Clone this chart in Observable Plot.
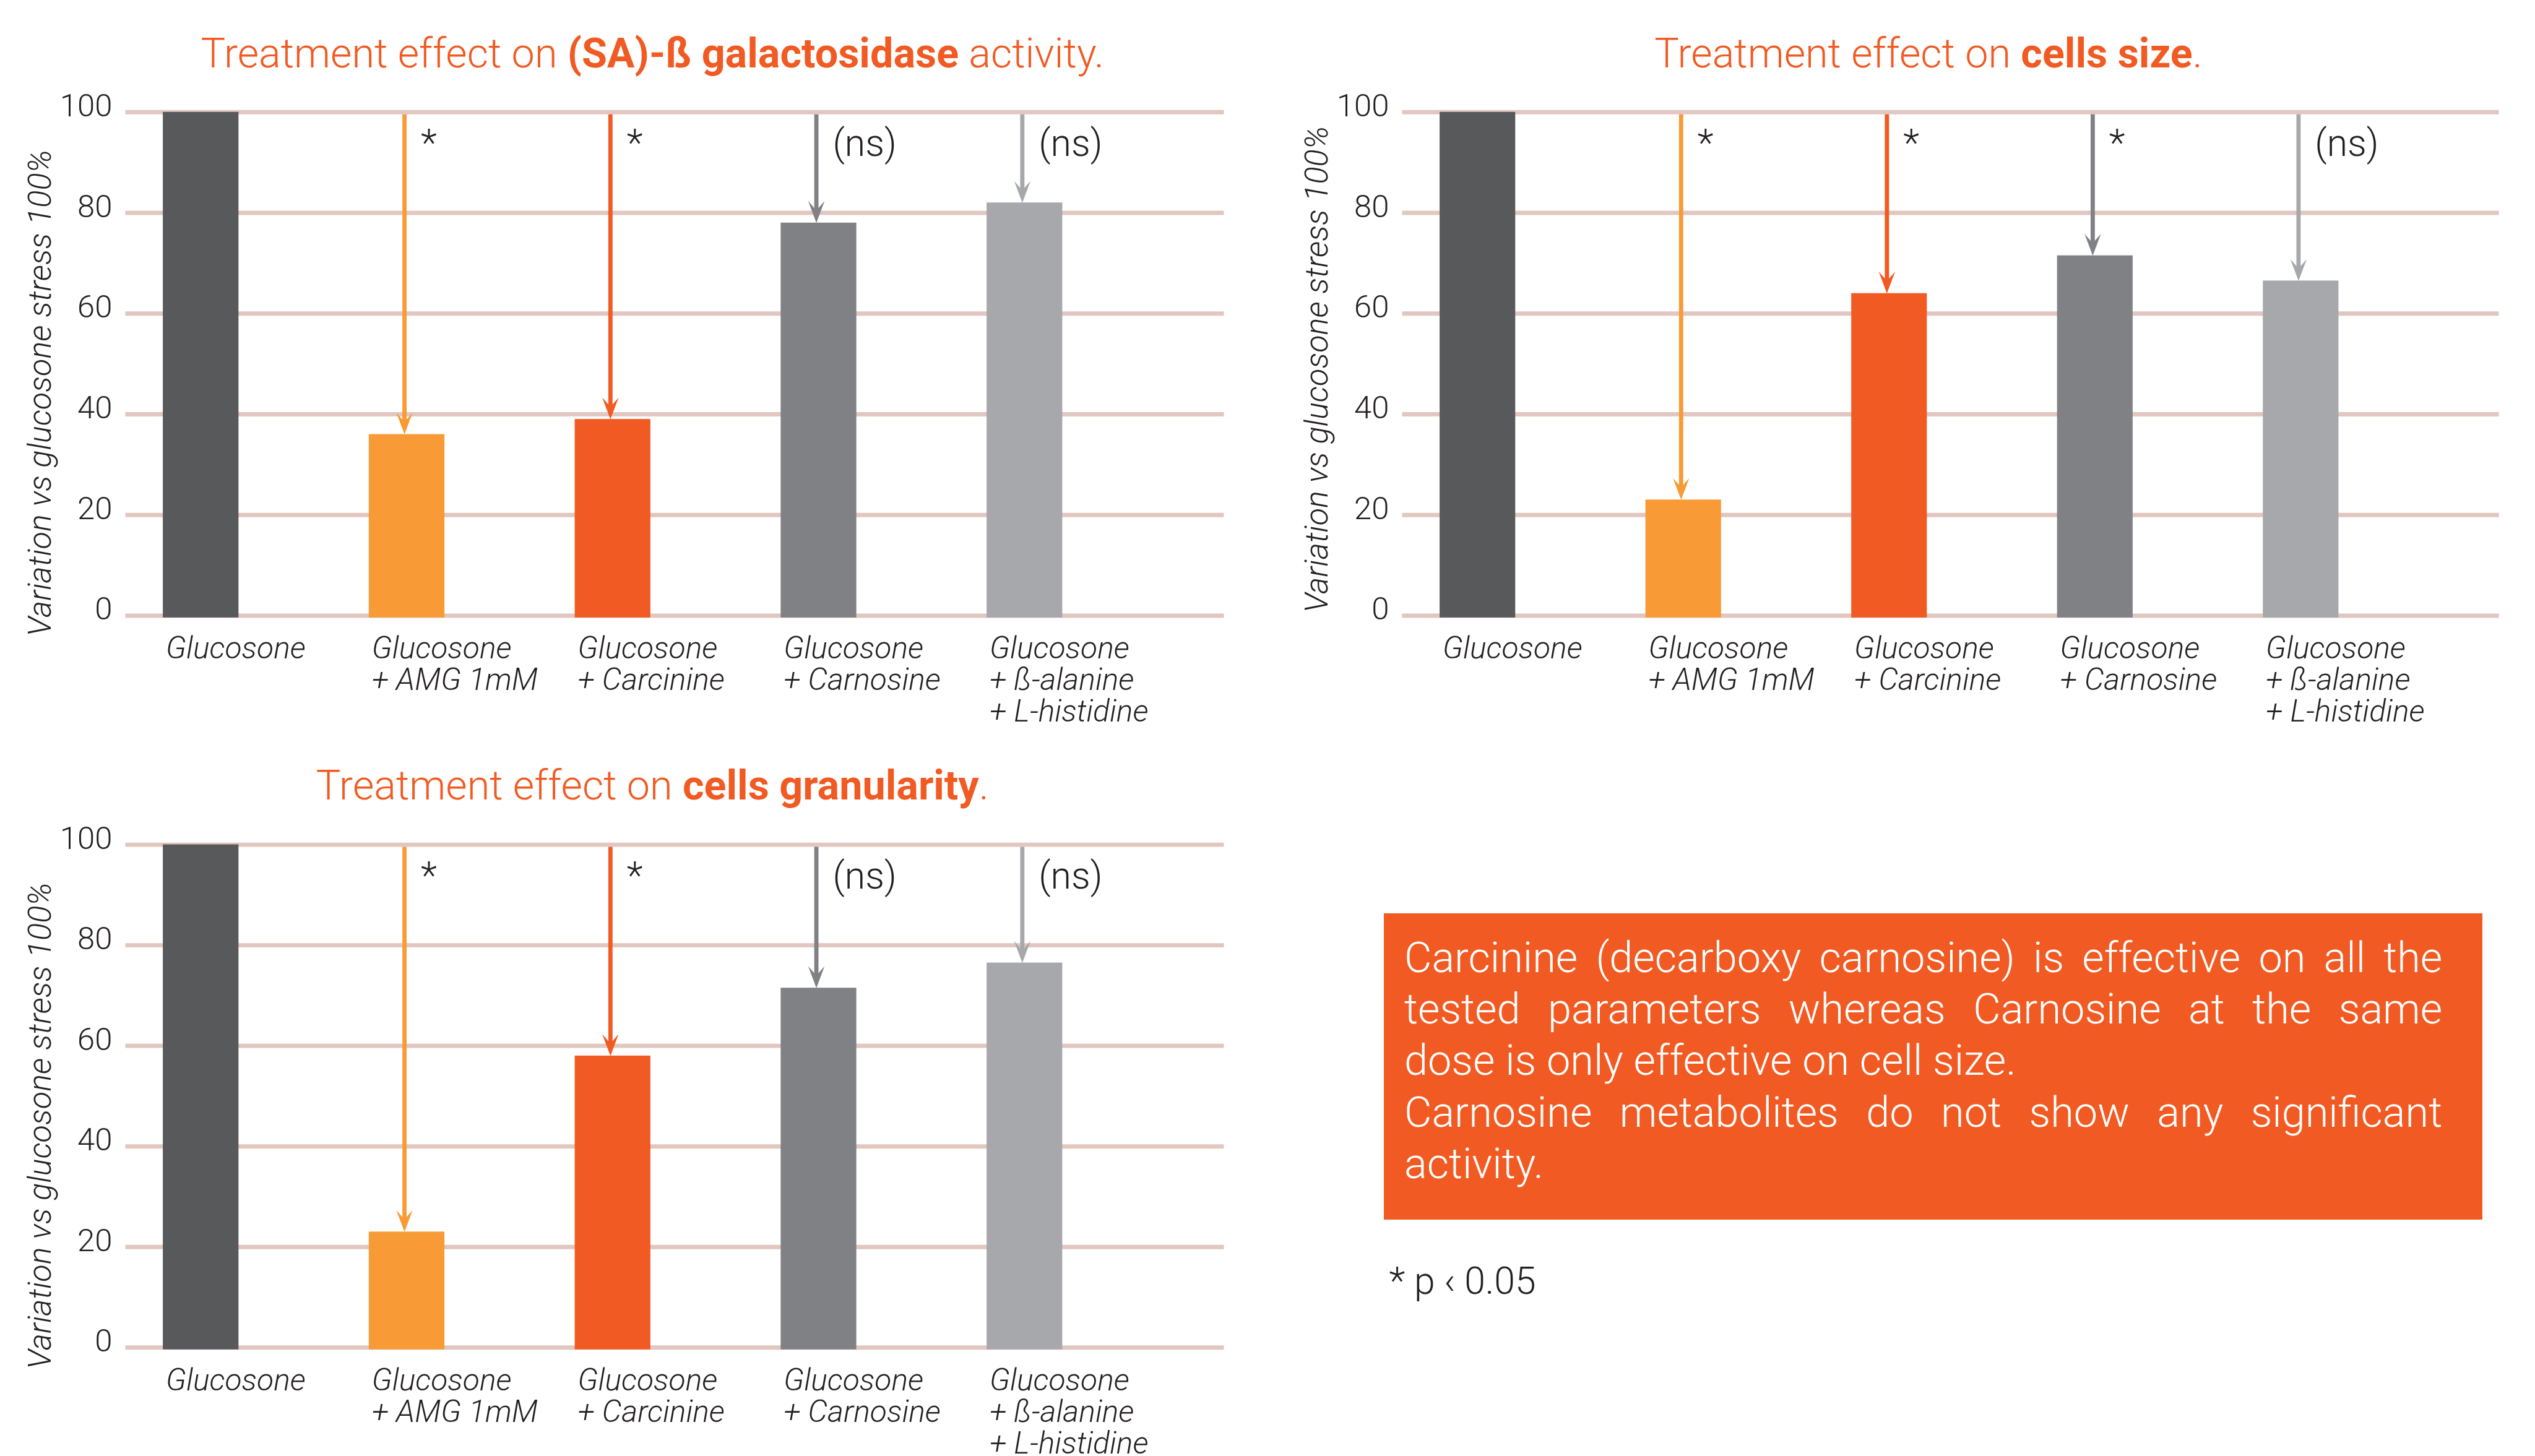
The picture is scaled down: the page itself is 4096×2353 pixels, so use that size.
<!DOCTYPE html>
<html><head><meta charset="utf-8">
<script src="https://cdn.jsdelivr.net/npm/d3@7"></script>
<script src="https://cdn.jsdelivr.net/npm/@observablehq/plot@0.6"></script>
<style>
html,body{margin:0;padding:0;background:#fff;}
#page{position:relative;width:4096px;height:2353px;overflow:hidden;font-family:Roboto,sans-serif;background:#fff;}
.abs{position:absolute;white-space:nowrap;line-height:1;}
.title{color:#f15a22;font-weight:300;text-align:center;}
.title b{font-weight:700;}
.noteline{position:absolute;color:#fff;font-weight:300;white-space:normal;}
</style></head><body><div id="page"></div>
<script>
// ---------- data ----------
const categories = ["Glucosone", "Glucosone\n+ AMG 1mM", "Glucosone\n+ Carcinine", "Glucosone\n+ Carnosine", "Glucosone\n+ ß-alanine\n+ L-histidine"];
const galactosidase = [100, 36, 39, 78, 82];
const cellSize = [100, 23, 64, 71.5, 66.5];
const granularity = [100, 23, 58, 71.5, 76.5];
const galactosidaseSig = ["", "*", "*", "(ns)", "(ns)"];
const cellSizeSig = ["", "*", "*", "*", "(ns)"];
const granularitySig = ["", "*", "*", "(ns)", "(ns)"];
const barColors = ["#58595b", "#f89b36", "#f15a22", "#808184", "#a7a8ab"];
const yTicks = [0, 20, 40, 60, 80, 100];
const yLabel = "Variation vs glucosone stress 100%";
const titlePlain = "Treatment effect on ";
const titleBold = ["(SA)-ß galactosidase", "cells size", "cells granularity"];
const titleEnd = [" activity.", ".", "."];
const noteLines = [
  "Carcinine (decarboxy carnosine) is effective on all the",
  "tested parameters whereas Carnosine at the same",
  "dose is only effective on cell size.",
  "Carnosine metabolites do not show any significant",
  "activity."
];
const noteJustify = [true, true, false, true, false];
const footnote = "* p \u2039 0.05";

// ---------- layout (reference px, scaled by S) ----------
const S = 0.978;
const page = document.getElementById("page");
const ROBOTO_BASE = 0.8415; // baseline offset for line-height 1

function placeText(html, {x, baseline, size, width = 2000, align = "center", cls = "", color = "#231f20", weight = 300}) {
  const d = document.createElement("div");
  d.className = "abs " + cls;
  d.innerHTML = html;
  d.style.fontSize = (size * S) + "px";
  d.style.width = (width * S) + "px";
  d.style.textAlign = align;
  d.style.color = color;
  d.style.fontWeight = weight;
  const left = align === "center" ? x - width / 2 : x;
  d.style.left = (left * S) + "px";
  d.style.top = ((baseline - ROBOTO_BASE * size) * S) + "px";
  page.appendChild(d);
  return d;
}

const arrowHead = {
  draw(ctx, size) {
    const r = Math.sqrt(size / Math.PI);
    ctx.moveTo(0, 0);
    ctx.lineTo(-0.75 * r, -2 * r);
    ctx.lineTo(0, -1.15 * r);
    ctx.lineTo(0.75 * r, -2 * r);
    ctx.closePath();
  }
};

const panels = [
  {values: galactosidase, sig: galactosidaseSig, left: 0, top: 130, width: 2060, height: 1085,
   frameLeft: 207, frameRight: 2022, y100: 185, y0: 1017, barLeft: 269, barRight: 1755, labelDy: 48,
   titleX: 1078, titleBase: 111},
  {values: cellSize, sig: cellSizeSig, left: 2110, top: 130, width: 2050, height: 1085,
   frameLeft: 2316, frameRight: 4128, y100: 185, y0: 1017, barLeft: 2378, barRight: 3863, labelDy: 9,
   titleX: 3186, titleBase: 111},
  {values: granularity, sig: granularitySig, left: 0, top: 1240, width: 2060, height: 1166,
   frameLeft: 207, frameRight: 2022, y100: 1395, y0: 2226, barLeft: 269, barRight: 1755, labelDy: 49,
   titleX: 1078, titleBase: 1321}
];

panels.forEach((p, k) => {
  placeText(titlePlain + "<b>" + titleBold[k] + "</b>" + titleEnd[k],
    {x: p.titleX, baseline: p.titleBase, size: 68, width: 2000, cls: "title", color: "#f15a22", weight: 300});

  const rows = categories.map((c, i) => ({cat: c, value: p.values[i], sig: p.sig[i], color: barColors[i]}));
  const arrows = rows.filter(d => d.sig);

  const svg = Plot.plot({
    width: p.width * S,
    height: p.height * S,
    marginLeft: (p.frameLeft - p.left) * S,
    marginRight: (p.left + p.width - p.frameRight) * S,
    marginTop: (p.y100 - p.top) * S,
    marginBottom: (p.top + p.height - p.y0) * S,
    x: {type: "band", domain: categories, range: [(p.barLeft - p.left) * S, (p.barRight - p.left) * S],
        paddingInner: 0.6326, paddingOuter: 0, round: false, axis: null},
    y: {domain: [0, 100], axis: null},
    color: {type: "identity"},
    style: {fontFamily: "Roboto, sans-serif", background: "transparent", overflow: "visible"},
    marks: [
      Plot.ruleY(yTicks, {y: d => d, stroke: "#e2c6c0", strokeWidth: 7 * S}),
      Plot.barY(rows, {x: "cat", y: "value", fill: "color", insetBottom: -3.5 * S}),
      Plot.ruleX(arrows, {x: "cat", y1: 100, y2: "value", stroke: "color", strokeWidth: 7 * S,
        insetTop: 4 * S, insetBottom: 20 * S, dx: -4 * S}),
      Plot.dot(arrows, {x: "cat", y: "value", fill: "color", r: 18 * S, symbol: arrowHead, dx: -4 * S}),
      Plot.text(arrows, {x: "cat", text: "sig", frameAnchor: "top", textAnchor: "start", lineAnchor: "bottom",
        dx: 23 * S, dy: 72 * S, fontSize: 62 * S, fill: "#231f20", fontWeight: 300}),
      Plot.axisY(yTicks, {tickSize: 0, tickPadding: 22 * S, fontSize: 52 * S, dy: -10 * S,
        color: "#231f20", label: null, fontWeight: 300}),
      Plot.text(rows, {x: "cat", text: "cat", frameAnchor: "bottom", textAnchor: "start", lineAnchor: "top",
        dx: -58 * S, dy: 33 * S, fontSize: 51 * S, lineHeight: 1.03, fontStyle: "italic",
        fill: "#231f20", fontWeight: 300}),
      Plot.text([yLabel], {text: d => d, frameAnchor: "left", rotate: -90, textAnchor: "middle",
        lineAnchor: "bottom", dx: -124 * S, dy: p.labelDy * S, fontSize: 53.5 * S, fontStyle: "italic",
        fill: "#231f20", fontWeight: 300})
    ]
  });
  svg.style.position = "absolute";
  svg.style.left = (p.left * S) + "px";
  svg.style.top = (p.top * S) + "px";
  svg.style.maxWidth = "none";
  page.appendChild(svg);
});

// ---------- note box ----------
const box = document.createElement("div");
box.style.cssText = `position:absolute;left:${2286 * S}px;top:${1509 * S}px;width:${1815 * S}px;height:${506 * S}px;background:#f15a22;`;
page.appendChild(box);
noteLines.forEach((t, i) => {
  const d = document.createElement("div");
  d.className = "noteline";
  d.textContent = t;
  d.style.left = ((2320 - 2286) * S) + "px";
  d.style.width = (1715 * S) + "px";
  d.style.top = ((1540 + 85 * i - 1509) * S) + "px";
  d.style.lineHeight = (85 * S) + "px";
  d.style.fontSize = (70 * S) + "px";
  d.style.textAlign = noteJustify[i] ? "justify" : "left";
  d.style.textAlignLast = noteJustify[i] ? "justify" : "left";
  box.appendChild(d);
});

placeText(footnote, {x: 2295, baseline: 2139, size: 62, width: 600, align: "left", color: "#231f20", weight: 300});
</script></body></html>
